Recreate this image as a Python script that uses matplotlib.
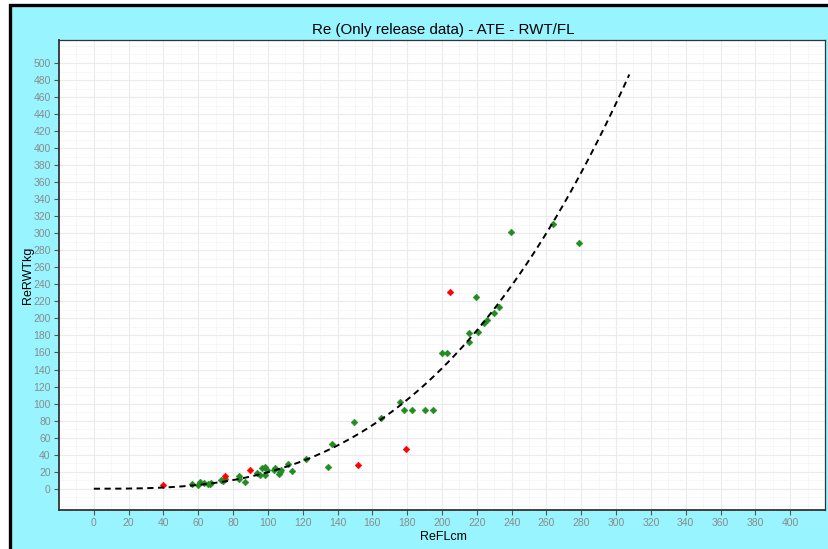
import numpy as np
import matplotlib
matplotlib.use("Agg")
import matplotlib.pyplot as plt
from matplotlib.patches import Rectangle
from matplotlib.ticker import MultipleLocator

plt.rcParams['font.family'] = ['Liberation Sans', 'DejaVu Sans']

# Release records, fork length (cm) vs round weight (kg)
green_fl = [56.6, 59.9, 60.8, 63.1, 65.6, 67.5, 67.0, 73.3, 75.6, 74.0, 83.4, 83.4,
            86.7, 93.7, 96.8, 98.1, 95.3, 98.1, 99.5, 103.9, 103.5, 106.4, 107.1,
            107.7, 111.5, 114.0, 121.7, 134.7, 137.0, 149.2, 164.7, 175.6, 177.9,
            182.7, 190.3, 194.9, 199.9, 202.9, 215.4, 215.6, 219.6, 220.6, 224.4,
            225.7, 229.6, 232.6, 239.7, 263.6, 278.9]
green_wt = [5.5, 4.3, 7.4, 6.6, 5.9, 7.0, 5.0, 10.6, 11.4, 9.0, 14.5, 11.8,
            8.2, 18.4, 24.3, 25.0, 16.4, 16.4, 21.5, 24.3, 21.5, 17.2, 19.6,
            21.5, 29.0, 21.1, 34.4, 25.8, 52.8, 78.6, 82.5, 102.0, 92.7,
            91.9, 91.9, 91.9, 159.2, 159.6, 182.7, 171.8, 225.0, 184.6, 195.2,
            198.4, 206.2, 213.2, 301.3, 310.7, 289.0]

red_fl = [39.6, 75.6, 89.7, 152.0, 179.6, 204.7]
red_wt = [4.7, 15.3, 22.0, 27.8, 46.5, 231.0]

# Power-law weight-length relationship RWT = a * FL^b
fit_a = 3.52e-5
fit_b = 2.87
fit_range = (0.0, 307.6)

x_ticks = list(range(0, 401, 20))
y_ticks = list(range(0, 501, 20))

W, H = 829, 549
fig = plt.figure(figsize=(W / 100, H / 100), dpi=100)
fig.patch.set_facecolor('white')

# cyan backdrop with dark frame on top and left
backdrop = Rectangle((10 / W, -0.05), 1.1, 1 - 5 / H + 0.05,
                     transform=fig.transFigure, facecolor='#98F5FF',
                     edgecolor='black', linewidth=2.4, zorder=-5)
fig.patches.append(backdrop)

ax = fig.add_axes([59 / W, 1 - 510 / H, (825 - 59) / W, (510 - 40) / H])
ax.set_zorder(2)
ax.set_facecolor('white')

ax.set_xlim(-20, 420)
ax.set_ylim(-25, 527)
ax.set_xticks(x_ticks)
ax.set_yticks(y_ticks)
ax.xaxis.set_minor_locator(MultipleLocator(10))
ax.yaxis.set_minor_locator(MultipleLocator(10))
ax.grid(which='major', color='#EBEBEB', linewidth=0.8)
ax.grid(which='minor', color='#F4F4F4', linewidth=0.5)
ax.set_axisbelow(True)
ax.tick_params(which='minor', length=0)
ax.tick_params(which='major', length=3.5, width=0.8, color='#555555',
               labelcolor='#8A8A8A', labelsize=7.5, pad=2.5)
for s in ax.spines.values():
    s.set_color('#333333')
    s.set_linewidth(0.9)
for s in ('left', 'bottom'):
    ax.spines[s].set_linewidth(1.3)

ax.plot(green_fl, green_wt, linestyle='none', marker='D', markersize=3.4,
        color='#228B22', markeredgewidth=0.4, zorder=3)
ax.plot(red_fl, red_wt, linestyle='none', marker='D', markersize=3.4,
        color='#FF0000', markeredgewidth=0.4, zorder=3)

fl = np.linspace(fit_range[0], fit_range[1], 300)
ax.plot(fl, fit_a * fl ** fit_b, color='black', linewidth=1.4,
        dashes=(3.2, 2.3), zorder=4)

fig.text(443 / W, 1 - 30 / H, "Re (Only release data) - ATE - RWT/FL",
         ha='center', va='center', fontsize=10.9, color='black', zorder=3)
fig.text(443 / W, 1 - 537 / H, "ReFLcm", ha='center', va='center',
         fontsize=9, color='black', zorder=3)
fig.text(28 / W, 1 - 275 / H, "ReRWTkg", ha='center', va='center',
         rotation=90, fontsize=9, color='black', zorder=3)

fig.savefig("out.png", dpi=100, facecolor=fig.get_facecolor())
